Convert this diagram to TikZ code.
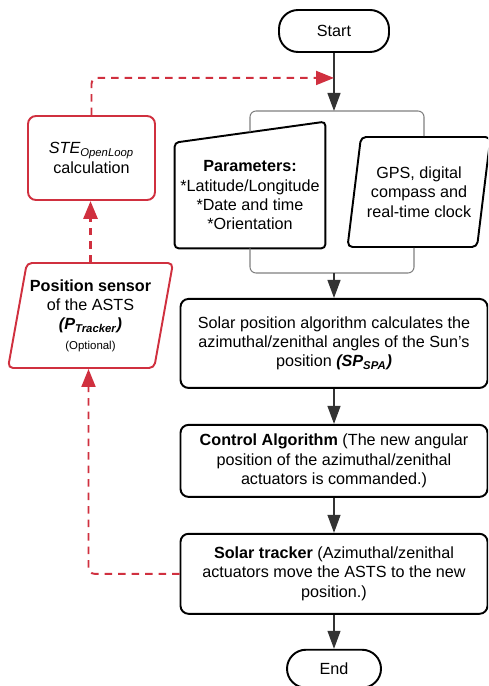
\documentclass[tikz,border=0pt]{standalone}
\usepackage{fontspec}
\setmainfont{Liberation Sans}
\usetikzlibrary{positioning, arrows.meta, shapes.geometric, calc}
\definecolor{tred}{HTML}{D0303F}
\definecolor{tgray}{HTML}{333333}

\begin{document}
\begin{tikzpicture}[
    every node/.style={font=\fontsize{9.2}{11}\selectfont},
    block/.style={draw, line width=1.1pt, rounded corners=0.16cm, minimum width=6.14cm, align=center, inner sep=2pt},
    term/.style={draw, line width=1.1pt, rounded corners=0.38cm, minimum height=0.8cm, align=center},
    io/.style={trapezium, trapezium left angle=76, trapezium right angle=104, trapezium stretches body, draw, line width=1.1pt, rounded corners=0.1cm, align=center, inner sep=1pt},
    redbox/.style={draw=tred, line width=1.1pt, rounded corners=0.16cm, minimum width=2.54cm, minimum height=1.68cm, align=center},
    arr/.style={-{Triangle[length=0.36cm, width=0.26cm]}, tgray, line width=0.7pt},
    redarr/.style={-{Triangle[length=0.36cm, width=0.28cm]}, tred, line width=1.1pt, dash pattern=on 0.15cm off 0.12cm, rounded corners=0.12cm},
    bracket/.style={gray, line width=0.6pt, rounded corners=0.12cm}
]
\useasboundingbox (0,0) rectangle (9.76,-13.72);
\clip (0,0) rectangle (9.76,-13.72);

% Start
\node[term, minimum width=2.2cm, minimum height=0.84cm] (start) at (6.68,-0.62) {Start};
\coordinate[below=0.5cm of start] (mrg);
\coordinate (tj) at (6.68,-2.22);

% Inputs
\node[minimum width=3.0cm, minimum height=2.1cm, align=center, inner sep=0pt] (params) at (5.0,-3.91)
    {\textbf{Parameters:}\\*Latitude/Longitude\\*Date and time\\*Orientation};
\draw[line width=1.1pt, rounded corners=0.08cm] (params.south west) -- (params.north west)
    -- ([yshift=0.42cm]params.north east) -- (params.south east) -- cycle;
\node[io, minimum width=2.86cm, minimum height=2.2cm] (gps) at (8.38,-3.84) {GPS, digital\\compass and\\real-time clock};
\coordinate (bj) at (6.68,-5.46);

% Main column
\node[block, minimum height=1.78cm, below=4.9cm of start] (spa)
    {Solar position algorithm calculates the\\azimuthal/zenithal angles of the Sun's\\position \textbf{\textit{(SP\textsubscript{SPA})}}};
\node[block, minimum height=1.44cm, below=0.7cm of spa] (ctrl)
    {\textbf{Control Algorithm} (The new angular\\position of the azimuthal/zenithal\\actuators is commanded.)};
\node[block, minimum height=1.6cm, below=0.7cm of ctrl] (tracker)
    {\textbf{Solar tracker} (Azimuthal/zenithal\\actuators move the ASTS to the new\\position.)};
\node[term, minimum width=1.88cm, minimum height=0.76cm, below=0.68cm of tracker] (end) {End};

% Open loop branch
\node[redbox] (ste) at (1.83,-3.16) {\textit{STE\textsubscript{OpenLoop}}\\calculation};
\node[io, draw=tred, minimum width=3.3cm, minimum height=2.1cm] (sensor) at (1.81,-6.31)
    {\textbf{Position sensor}\\of the ASTS\\\textbf{\textit{(P\textsubscript{Tracker})}}\\{\fontsize{6.5}{8}\selectfont(Optional)}};

% Arrows
\draw[arr] (start) -- (tj);
\draw[bracket] ([yshift=0.21cm]params.north) |- (tj) -| ([xshift=0.1cm]gps.north);
\draw[bracket] (params.south) |- (bj) -| ([xshift=-0.1cm]gps.south);
\draw[arr] (bj) -- (spa);
\draw[arr] (spa) -- (ctrl);
\draw[arr] (ctrl) -- (tracker);
\draw[arr] (tracker) -- (end);
\draw[redarr] (ste.north) |- (mrg);
\draw[redarr, line width=1.7pt] (sensor.north) -- (sensor.north |- ste.south);
\draw[redarr] (tracker.west) -| ([xshift=-0.04cm]sensor.south);

\end{tikzpicture}
\end{document}
